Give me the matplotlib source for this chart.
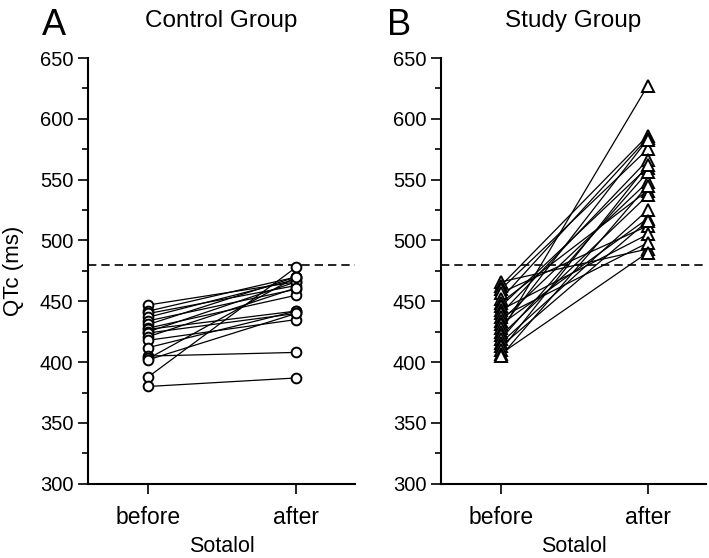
import matplotlib
matplotlib.use("Agg")
import matplotlib.pyplot as plt
from matplotlib.ticker import MultipleLocator

plt.rcParams["font.family"] = ["Liberation Sans", "DejaVu Sans"]

# QTc (ms) before and after sotalol, one pair per patient
control_before = [447, 442, 440, 437, 434, 431, 428, 427, 425, 424, 421, 418, 412, 405, 403, 402, 388, 380]
control_after = [466, 470, 463, 468, 460, 470, 455, 442, 466, 440, 461, 435, 442, 408, 470, 440, 478, 387]

study_before = [466, 463, 460, 457, 452, 449, 446, 443, 440, 437, 434, 431, 428, 425, 422, 419, 416, 413, 410, 407, 405]
study_after = [493, 586, 575, 512, 584, 541, 560, 505, 566, 498, 548, 518, 583, 627, 537, 556, 525, 516, 562, 490, 545]

conditions = ["before", "after"]
threshold = 480

fig = plt.figure(figsize=(7.09, 5.58), dpi=100)
ax_a = fig.add_axes([0.124, 0.133, 0.377, 0.763])
ax_b = fig.add_axes([0.622, 0.133, 0.374, 0.763])


def draw_panel(ax, before, after, marker, msize, title, letter, letter_x):
    for b, a in zip(before, after):
        ax.plot([0, 1], [b, a], color="black", linewidth=0.9, zorder=2)
    for x, vals in ((0, before), (1, after)):
        ax.plot([x] * len(vals), vals, linestyle="none", marker=marker,
                markersize=msize, markerfacecolor="white", markeredgecolor="black",
                markeredgewidth=1.4, zorder=3)
    ax.axhline(threshold, color="black", linewidth=1.2, dashes=(5, 3), zorder=1)

    ax.set_xlim(-0.41, 1.40)
    ax.set_ylim(300, 650)
    ax.set_xticks([0, 1])
    ax.set_xticklabels(conditions, fontsize=16.5)
    ax.yaxis.set_major_locator(MultipleLocator(50))
    ax.yaxis.set_minor_locator(MultipleLocator(25))
    ax.tick_params(axis="both", which="major", length=7, width=1.2, direction="out")
    ax.tick_params(axis="y", which="major", labelsize=14.5)
    ax.tick_params(axis="y", which="minor", length=4, width=1.2, direction="out")
    ax.tick_params(axis="x", pad=9)
    for side in ("top", "right"):
        ax.spines[side].set_visible(False)
    for side in ("left", "bottom"):
        ax.spines[side].set_linewidth(1.5)
    ax.set_xlabel("Sotalol", fontsize=15.5, labelpad=5)
    ax.set_title(title, fontsize=17.5, pad=22)
    ax.text(letter_x, 1.035, letter, transform=ax.transAxes, fontsize=26,
            ha="center", va="bottom")


draw_panel(ax_a, control_before, control_after, "o", 7, "Control Group", "A", -0.127)
draw_panel(ax_b, study_before, study_after, "^", 8, "Study Group", "B", -0.16)
ax_a.set_ylabel("QTc (ms)", fontsize=16)
ax_a.yaxis.set_label_coords(-0.24, 0.5)

fig.savefig("out.png", dpi=100)
